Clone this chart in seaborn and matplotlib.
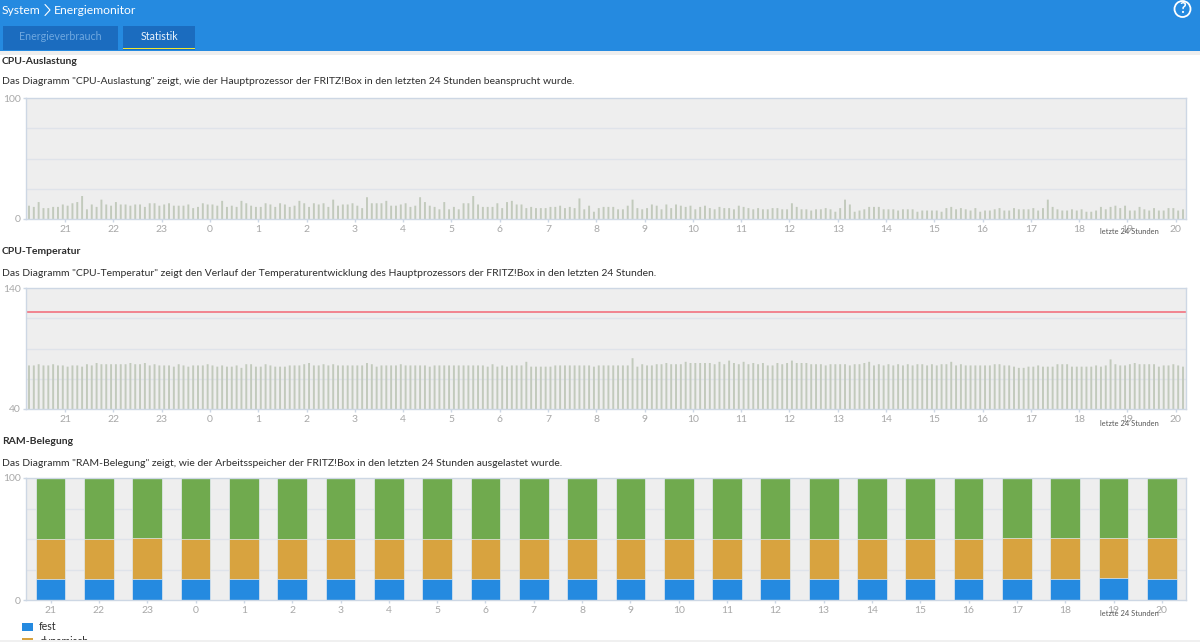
import numpy as np
import pandas as pd
import matplotlib
matplotlib.use("Agg")
import matplotlib.pyplot as plt
from matplotlib.patches import Rectangle, Circle
import seaborn as sns

# hour labels below each chart
hours = ["21", "22", "23"] + [str(h) for h in range(0, 21)]

# CPU load per 6 minute slot (percent)
cpu_load = [
    11, 10, 14, 9, 9, 10, 10, 12, 11, 13,
    14, 19, 8, 12, 10, 16, 12, 11, 14, 12,
    12, 11, 12, 12, 10, 13, 13, 11, 12, 13,
    11, 11, 11, 12, 9, 10, 13, 12, 12, 11,
    15, 10, 11, 10, 15, 13, 11, 10, 10, 13,
    12, 10, 13, 12, 10, 11, 15, 13, 10, 13,
    12, 13, 10, 16, 11, 12, 12, 13, 11, 9,
    18, 13, 13, 13, 15, 11, 11, 12, 13, 10,
    11, 18, 14, 11, 10, 8, 14, 8, 10, 8,
    13, 13, 19, 12, 10, 10, 10, 13, 9, 14,
    15, 12, 12, 9, 10, 9, 9, 9, 10, 10,
    11, 9, 10, 9, 17, 8, 11, 6, 9, 10,
    10, 10, 8, 8, 11, 16, 9, 8, 9, 12,
    11, 8, 12, 9, 12, 11, 10, 11, 8, 10,
    11, 9, 8, 10, 9, 9, 8, 11, 10, 9,
    8, 9, 8, 8, 9, 9, 8, 8, 13, 10,
    8, 8, 7, 8, 8, 9, 8, 6, 9, 16,
    12, 6, 7, 8, 10, 10, 10, 8, 8, 8,
    7, 8, 8, 8, 6, 7, 7, 7, 7, 6,
    9, 10, 8, 9, 8, 7, 9, 6, 7, 7,
    8, 9, 7, 7, 9, 8, 8, 8, 9, 7,
    9, 16, 10, 8, 7, 7, 8, 7, 8, 6,
    6, 7, 10, 8, 10, 11, 9, 11, 7, 7,
    10, 8, 7, 9, 7, 7, 9, 9, 7, 8,
]

# CPU temperature per 6 minute slot (deg C)
cpu_temp = [
    76, 76, 77, 76, 76, 77, 76, 76, 75, 76,
    76, 75, 77, 76, 78, 77, 77, 77, 77, 77,
    77, 78, 77, 77, 78, 76, 77, 76, 76, 76,
    75, 77, 76, 75, 76, 76, 76, 77, 76, 75,
    76, 75, 75, 76, 74, 77, 77, 75, 75, 77,
    76, 75, 75, 75, 76, 76, 76, 77, 78, 76,
    76, 77, 76, 77, 76, 76, 76, 76, 76, 76,
    78, 77, 75, 76, 76, 76, 76, 77, 76, 76,
    76, 76, 76, 75, 76, 76, 76, 76, 76, 76,
    76, 76, 76, 76, 76, 75, 77, 75, 76, 75,
    76, 76, 76, 79, 75, 75, 75, 75, 75, 76,
    76, 76, 76, 76, 76, 76, 76, 75, 76, 76,
    76, 76, 76, 76, 76, 82, 75, 77, 76, 76,
    77, 77, 78, 77, 77, 77, 79, 78, 78, 78,
    78, 78, 77, 79, 77, 80, 78, 77, 79, 77,
    78, 77, 78, 76, 76, 78, 77, 78, 80, 78,
    78, 78, 77, 77, 77, 76, 77, 77, 77, 77,
    76, 77, 77, 78, 79, 76, 77, 76, 77, 76,
    77, 76, 77, 76, 77, 77, 76, 77, 76, 77,
    77, 79, 76, 77, 76, 76, 76, 76, 76, 76,
    77, 77, 76, 76, 75, 74, 74, 75, 75, 76,
    75, 75, 75, 77, 77, 77, 75, 75, 75, 75,
    75, 76, 75, 76, 81, 77, 76, 76, 77, 78,
    77, 77, 77, 77, 75, 76, 76, 77, 76, 75,
]
temp_limit = 120

# RAM shares per hour (percent)
ram_fest = [17, 17, 17.5, 17, 17, 17, 17, 17, 17, 17, 17, 17,
            17, 17, 17, 17, 17, 17, 17, 17, 17.5, 17.5, 18, 17.5]
ram_dynamisch = [33, 33, 33, 33, 33, 33, 33, 33, 33, 33, 33, 33,
                 33, 33, 33, 33, 33, 33, 33, 33, 33, 33, 32.5, 33.5]
ram_frei = [100 - a - b for a, b in zip(ram_fest, ram_dynamisch)]

W, H = 1200, 642
BLUE = "#258ae0"
TAB = "#1b6cbf"
BAR = "#c2cabc"
GRID = "#dfe3ea"
SPINE = "#cdd7e4"
TICK = "#a8a8a8"
DARK = "#2e2e2e"
ORANGE = "#d8a33f"

sns.set_theme(style="white")
plt.rcParams["font.family"] = ["Lato", "DejaVu Sans"]

fig = plt.figure(figsize=(W / 100, H / 100), dpi=100, facecolor="white")

# page furniture in pixel coordinates
page = fig.add_axes([0, 0, 1, 1])
page.set_xlim(0, W)
page.set_ylim(H, 0)
page.axis("off")
page.add_patch(Rectangle((0, 50), W, 5, color="#eeeeee", lw=0))
page.add_patch(Rectangle((0, 0), W, 50.5, color=BLUE, lw=0))
page.add_patch(Rectangle((3, 26), 115, 24, color=TAB, lw=0))
page.add_patch(Rectangle((123, 26), 72, 24, color=TAB, lw=0))
page.add_patch(Rectangle((123, 47.8), 72, 1.2, color="#f0e830", lw=0))
page.text(2, 10, "System", color="white", fontsize=8.7, va="center")
page.plot([45, 50, 45], [4.5, 10, 15.5], color="white", lw=0.8)
page.text(54, 10, "Energiemonitor", color="white", fontsize=8.7, va="center")
page.text(60, 36.5, "Energieverbrauch", color="#6fa8e0", fontsize=7.7, ha="center", va="center")
page.text(159.5, 36.5, "Statistik", color="#eaf3fc", fontsize=7.7, ha="center", va="center")
page.add_patch(Circle((1182.5, 9), 8, fc="none", ec="white", lw=1.3))
page.text(1182.5, 9, "?", color="white", fontsize=10.5, fontweight="bold", ha="center", va="center")

sections = [
    (61, 82, "CPU-Auslastung",
     'Das Diagramm "CPU-Auslastung" zeigt, wie der Hauptprozessor der FRITZ!Box in den letzten 24 Stunden beansprucht wurde.'),
    (251, 273, "CPU-Temperatur",
     'Das Diagramm "CPU-Temperatur" zeigt den Verlauf der Temperaturentwicklung des Hauptprozessors der FRITZ!Box in den letzten 24 Stunden.'),
    (441, 463, "RAM-Belegung",
     'Das Diagramm "RAM-Belegung" zeigt, wie der Arbeitsspeicher der FRITZ!Box in den letzten 24 Stunden ausgelastet wurde.'),
]
for y_head, y_desc, head, desc in sections:
    page.text(2, y_head, head, color=DARK, fontsize=7.5, fontweight="bold", va="center")
    page.text(2, y_desc, desc, color=DARK, fontsize=7.5, va="center")


def make_axes(top, bottom, ymin, ymax):
    ax = fig.add_axes([26 / W, 1 - bottom / H, 1160 / W, (bottom - top) / H])
    ax.set_facecolor("#eeeeee")
    ax.set_axisbelow(True)
    ax.set_ylim(ymin, ymax)
    for spine in ax.spines.values():
        spine.set_color(SPINE)
        spine.set_linewidth(1)
    return ax


def finish_axes(ax, ticks, ymin, ymax):
    ax.set_xticks(ticks)
    ax.set_xticklabels(hours)
    ax.set_yticks([ymin, ymax])
    ax.set_yticklabels([str(ymin), str(ymax)])
    step = (ymax - ymin) / 4
    ax.set_yticks([ymin + step * k for k in (1, 2, 3)], minor=True)
    ax.grid(True, which="minor", axis="y", color=GRID, lw=1)
    ax.grid(False, which="major")
    ax.tick_params(axis="both", which="major", labelsize=7.5, labelcolor=TICK, color=SPINE,
                   length=2.5, width=1, pad=1.5, left=True, bottom=True)
    ax.tick_params(axis="y", which="minor", length=0)
    ax.set_xlabel("")
    ax.set_ylabel("")


def slot_chart(ax, values, ymin, ymax):
    slots = pd.DataFrame({"slot": np.arange(len(values)), "value": values})
    sns.barplot(data=slots, x="slot", y="value", color=BAR, saturation=1, width=0.4, linewidth=0, ax=ax)
    # no pixel snapping, the bars are thinner than two pixels
    for bar in ax.patches:
        bar.set_snap(False)
    ax.set_ylim(ymin, ymax)
    ax.set_xlim(-0.62, len(values) - 0.38)
    finish_axes(ax, [7.5 + 10 * k for k in range(len(hours))], ymin, ymax)


# CPU load
ax_cpu = make_axes(98, 219, 0, 100)
slot_chart(ax_cpu, cpu_load, 0, 100)

# CPU temperature with the limit line
ax_temp = make_axes(288, 409, 40, 140)
slot_chart(ax_temp, cpu_temp, 40, 140)
ax_temp.axhline(temp_limit, color="#f2727f", lw=1.2)

# RAM usage, stacked by overdrawing the running totals
ax_ram = make_axes(478, 600, 0, 100)
ram = pd.DataFrame({"hour": hours, "fest": ram_fest, "dynamisch": ram_dynamisch, "frei": ram_frei})
ram["fest_top"] = ram["fest"]
ram["dyn_top"] = ram["fest"] + ram["dynamisch"]
ram["frei_top"] = ram["dyn_top"] + ram["frei"]
bar_style = dict(x="hour", order=hours, saturation=1, width=0.615, edgecolor="#e4ebf3", linewidth=0.5, ax=ax_ram)
sns.barplot(data=ram, y="frei_top", color="#70aa4e", **bar_style)
sns.barplot(data=ram, y="dyn_top", color=ORANGE, label="dynamisch", **bar_style)
sns.barplot(data=ram, y="fest_top", color=BLUE, label="fest", **bar_style)
ax_ram.set_xlim(-0.51, 23.5)
finish_axes(ax_ram, list(range(len(hours))), 0, 100)

handles, labels = ax_ram.get_legend_handles_labels()
order = [labels.index("fest"), labels.index("dynamisch")]
legend = ax_ram.legend([handles[i] for i in order], [labels[i] for i in order], loc="upper left",
                       bbox_to_anchor=(22 / W, 1 - 621.5 / H), bbox_transform=fig.transFigure, frameon=False,
                       fontsize=7.6, labelcolor=DARK, handlelength=1.05, handleheight=0.7, handletextpad=0.57,
                       labelspacing=0.35, borderpad=0, borderaxespad=0)
for patch, colour in zip(legend.get_patches(), [BLUE, ORANGE]):
    patch.set_facecolor(colour)
    patch.set_edgecolor("none")

# caption that sits over the tick labels, same as in the original
for y in (232, 423, 613):
    fig.text(1129 / W, 1 - y / H, "letzte 24 Stunden", color="#555555", fontsize=5.4,
             ha="center", va="center", zorder=6)

# footer strip over the cut off legend
fig.add_artist(Rectangle((0, 0), 1, 2.5 / H, transform=fig.transFigure, color="#f0f0f0", lw=0, zorder=7))

fig.savefig("out.png", dpi=100)
